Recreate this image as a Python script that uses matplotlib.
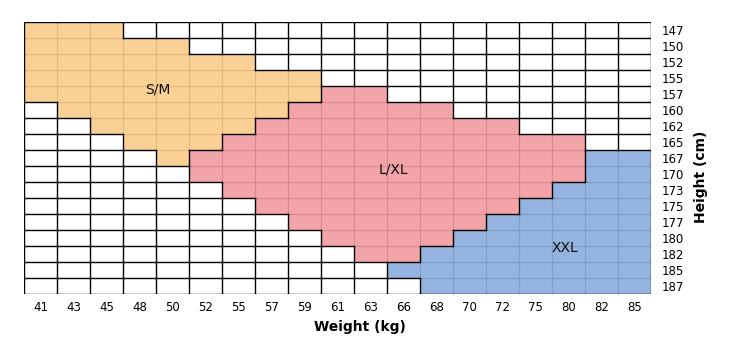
import matplotlib.pyplot as plt
from matplotlib.collections import LineCollection

# Tabla de tallas: peso (columnas) x altura (filas)
weights = [41, 43, 45, 48, 50, 52, 55, 57, 59, 61, 63, 66, 68, 70, 72, 75, 80, 82, 85]
heights = [147, 150, 152, 155, 157, 160, 162, 165, 167, 170, 173, 175, 177, 180, 182, 185, 187]

# S = S/M, L = L/XL, X = XXL, . = vacío
size_rows = [
    "SSS................",
    "SSSSS..............",
    "SSSSSSS............",
    "SSSSSSSSS..........",
    "SSSSSSSSSLL........",
    ".SSSSSSSLLLLL......",
    "..SSSSSLLLLLLLL....",
    "...SSSLLLLLLLLLLL..",
    "....SLLLLLLLLLLLLXX",
    ".....LLLLLLLLLLLLXX",
    "......LLLLLLLLLLXXX",
    ".......LLLLLLLLXXXX",
    "........LLLLLLXXXXX",
    ".........LLLLXXXXXX",
    "..........LLXXXXXXX",
    "...........XXXXXXXX",
    "............XXXXXXX",
]
size_labels = {"S": "S/M", "L": "L/XL", "X": "XXL"}
label_pos = {"S": (4.05, 4.2), "L": (11.2, 9.2), "X": (16.4, 14.1)}

fill = {"S": "#FAD094", "L": "#F2A4A8", "X": "#95B3DF", ".": "white"}
inner = {"S": "#E2B67C", "L": "#D9898F", "X": "#7F9DCB"}

ncol = len(weights)
nrow = len(heights)

fig = plt.figure(figsize=(7.47, 3.54), dpi=100)
ax = fig.add_axes([24 / 747, 1 - 294 / 354, 627 / 747, 272 / 354])

for j, row in enumerate(size_rows):
    for i, c in enumerate(row):
        ax.add_patch(plt.Rectangle((i, j), 1, 1, facecolor=fill[c], edgecolor="none"))


def cell(i, j):
    if 0 <= i < ncol and 0 <= j < nrow:
        return size_rows[j][i]
    return None


soft_segs, soft_cols, black_segs = [], [], []
# lineas verticales
for j in range(nrow):
    for i in range(ncol + 1):
        a, b = cell(i - 1, j), cell(i, j)
        seg = [(i, j), (i, j + 1)]
        if a is not None and a == b and a != ".":
            soft_segs.append(seg)
            soft_cols.append(inner[a])
        else:
            black_segs.append(seg)
# lineas horizontales
for i in range(ncol):
    for j in range(nrow + 1):
        a, b = cell(i, j - 1), cell(i, j)
        seg = [(i, j), (i + 1, j)]
        if a is not None and a == b and a != ".":
            soft_segs.append(seg)
            soft_cols.append(inner[a])
        else:
            black_segs.append(seg)

ax.add_collection(LineCollection(soft_segs, colors=soft_cols, linewidths=0.8))
ax.add_collection(LineCollection(black_segs, colors="black", linewidths=1.0,
                                 capstyle="projecting"))

for k, (x, y) in label_pos.items():
    ax.text(x, y, size_labels[k], ha="center", va="center", fontsize=10, color="#111111")

ax.set_xlim(0, ncol)
ax.set_ylim(nrow, 0)
ax.set_xticks([i + 0.5 for i in range(ncol)])
ax.set_xticklabels(weights, fontsize=8.5)
ax.set_yticks([j + 0.5 for j in range(nrow)])
ax.set_yticklabels(heights, fontsize=8.5)
ax.yaxis.tick_right()
ax.tick_params(axis="both", length=0)
ax.tick_params(axis="x", pad=5)
ax.tick_params(axis="y", pad=8)
for s in ax.spines.values():
    s.set_visible(False)

fig.text(360 / 747, 1 - 327 / 354, "Weight (kg)", ha="center", va="center",
         fontsize=10, fontweight="bold")
fig.text(701 / 747, 1 - 177 / 354, "Height (cm)", ha="center", va="center",
         fontsize=10, fontweight="bold", rotation=90)

fig.savefig("out.png", dpi=100)
